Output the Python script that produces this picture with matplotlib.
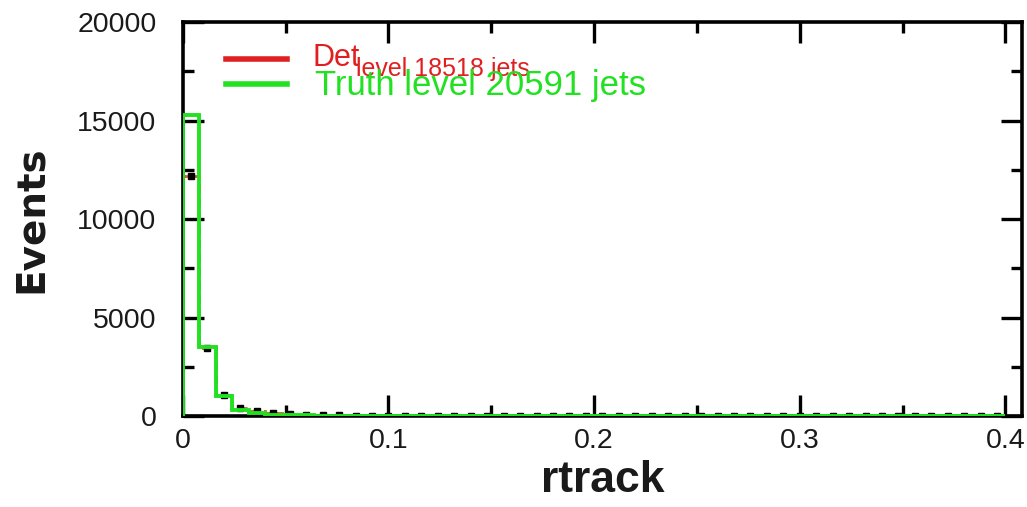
"""
rtrack distribution, detector vs truth level jets.
Output: out.png
"""

import numpy as np
import matplotlib
matplotlib.use("Agg")
import matplotlib.pyplot as plt
import matplotlib.ticker as mticker

# ── Data ──────────────────────────────────────────────────────────────────
bin_edges = np.arange(0, 0.4001, 0.008)

det_counts = [12200, 3450, 1080, 430, 230, 130, 80, 55, 40, 30,
              22, 17, 13, 10, 8, 7, 6, 5, 4, 4,
              3, 3, 3, 2, 2, 2, 2, 1, 1, 1,
              1, 1, 1, 1, 1, 1, 1, 1, 1, 1,
              1, 1, 1, 1, 1, 1, 1, 1, 1, 1]
truth_counts = [15300, 3500, 1000, 320, 140, 75, 45, 30, 20, 15,
                11, 8, 6, 5, 4, 3, 3, 2, 2, 2,
                1, 1, 1, 1, 1, 1, 1, 1, 1, 1,
                0, 0, 0, 0, 0, 0, 0, 0, 0, 0,
                0, 0, 0, 0, 0, 0, 0, 0, 0, 0]

det_label_main = "Det"
det_label_sub = "level 18518 jets"
truth_label = "Truth level 20591 jets"

# ── Style ─────────────────────────────────────────────────────────────────
RED = "#e02020"
ORG = "#e8501c"
GREEN = "#22e022"
INK = "#1a1a1a"
SANS = ["Liberation Sans", "DejaVu Sans"]

fig = plt.figure(figsize=(10.27, 5.07), dpi=100, facecolor="white")
ax = fig.add_axes([0.178, 0.1795, 0.817, 0.777])

centers = 0.5 * (bin_edges[:-1] + bin_edges[1:])
ax.stairs(det_counts, bin_edges, color=ORG, lw=2.0, linestyle=(0, (3, 2)), zorder=2)
ax.plot(centers, det_counts, "s", color="black", ms=4, zorder=3)
ax.stairs(truth_counts, bin_edges, color=GREEN, lw=2.8, zorder=4)

ax.set_xlim(0, 0.408)
ax.set_ylim(0, 20000)
ax.xaxis.set_major_locator(mticker.FixedLocator([0, 0.1, 0.2, 0.3, 0.4]))
ax.xaxis.set_minor_locator(mticker.MultipleLocator(0.05))
ax.yaxis.set_major_locator(mticker.MultipleLocator(5000))
ax.yaxis.set_minor_locator(mticker.MultipleLocator(2500))
ax.xaxis.set_major_formatter(mticker.FuncFormatter(lambda v, _: "0" if v == 0 else f"{v:.1f}"))

ax.tick_params(which="both", direction="in", top=True, right=True, width=2.4, color="black",
               labelcolor=INK)
ax.tick_params(which="major", length=15)
ax.tick_params(which="minor", length=8)
ax.tick_params(axis="y", labelsize=20.5, pad=19)
ax.tick_params(axis="x", labelsize=20.5, pad=9)
for lab in ax.get_xticklabels() + ax.get_yticklabels():
    lab.set_family(SANS)
for s in ax.spines.values():
    s.set_linewidth(2.6)

ax.set_ylabel("Events", fontsize=28, fontweight="bold", family="DejaVu Sans", labelpad=20,
              color=INK)
ax.set_xlabel("rtrack", fontsize=32, fontweight="bold", family=SANS, labelpad=4, color=INK)

# legend drawn by hand to keep the odd subscript layout
ax.plot([0.051, 0.124], [0.905, 0.905], transform=ax.transAxes, color=RED, lw=4, clip_on=False)
ax.plot([0.051, 0.124], [0.842, 0.842], transform=ax.transAxes, color=GREEN, lw=4, clip_on=False)
ax.text(0.154, 0.888, det_label_main, transform=ax.transAxes, color=RED,
        fontsize=22, family=SANS, va="baseline")
ax.text(0.206, 0.862, det_label_sub, transform=ax.transAxes, color=RED,
        fontsize=18, family=SANS, va="baseline")
ax.text(0.157, 0.816, truth_label, transform=ax.transAxes, color=GREEN,
        fontsize=25, family=SANS, va="baseline")

fig.savefig("out.png", dpi=100, facecolor="white")
